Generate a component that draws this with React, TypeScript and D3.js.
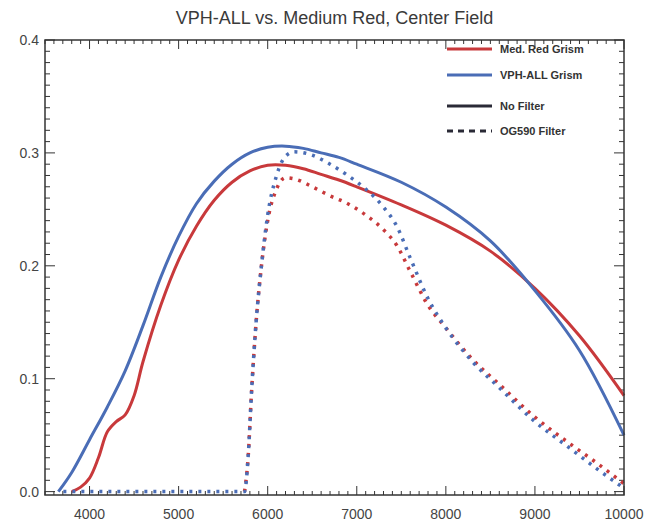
import React from "react";
import * as d3 from "d3";

const W = 654;
const H = 527;

const titleText = "VPH-ALL vs. Medium Red, Center Field";
const xTicks = [4000, 5000, 6000, 7000, 8000, 9000, 10000];
const yTicks = [0.0, 0.1, 0.2, 0.3, 0.4];
const yTickLabels = ["0.0", "0.1", "0.2", "0.3", "0.4"];

// Med. Red Grism, no filter
const redSolidX = [3800, 3900, 4000, 4100, 4200, 4300, 4400, 4500, 4600, 4800, 5000, 5200, 5400, 5600, 5800, 6000, 6200, 6400, 6600, 6800, 7000, 7500, 8000, 8500, 9000, 9500, 10000];
const redSolidY = [0, 0.004, 0.012, 0.03, 0.053, 0.062, 0.068, 0.085, 0.115, 0.165, 0.205, 0.235, 0.258, 0.274, 0.284, 0.289, 0.289, 0.286, 0.281, 0.276, 0.27, 0.254, 0.236, 0.213, 0.18, 0.138, 0.085];

// VPH-ALL Grism, no filter
const blueSolidX = [3650, 3800, 4000, 4200, 4400, 4600, 4800, 5000, 5200, 5400, 5600, 5800, 6000, 6200, 6400, 6600, 6800, 7000, 7500, 8000, 8500, 9000, 9500, 10000];
const blueSolidY = [0, 0.017, 0.046, 0.075, 0.107, 0.147, 0.19, 0.226, 0.255, 0.275, 0.29, 0.3, 0.305, 0.306, 0.304, 0.3, 0.296, 0.29, 0.274, 0.252, 0.222, 0.178, 0.125, 0.05];

// Med. Red Grism, OG590 filter
const redDotX = [5740, 5780, 5820, 5870, 5930, 6000, 6100, 6200, 6300, 6500, 6700, 6900, 7100, 7300, 7450, 7600, 7800, 8000, 8300, 8600, 9000, 9400, 9700, 10000];
const redDotY = [0, 0.03, 0.09, 0.15, 0.2, 0.24, 0.268, 0.278, 0.277, 0.27, 0.262, 0.255, 0.245, 0.232, 0.218, 0.195, 0.165, 0.145, 0.117, 0.095, 0.066, 0.042, 0.025, 0.007];

// VPH-ALL Grism, OG590 filter
const blueDotX = [3650, 4500, 5740, 5780, 5820, 5870, 5930, 6000, 6100, 6200, 6300, 6500, 6700, 6900, 7100, 7300, 7450, 7600, 7800, 8000, 8300, 8600, 9000, 9400, 9700, 10000];
const blueDotY = [0, 0, 0, 0.03, 0.09, 0.15, 0.2, 0.245, 0.28, 0.297, 0.301, 0.298, 0.29, 0.28, 0.268, 0.252, 0.235, 0.207, 0.171, 0.145, 0.115, 0.092, 0.062, 0.038, 0.02, 0.003];

const legendLabels = ["Med. Red Grism", "VPH-ALL Grism", "No Filter", "OG590 Filter"];

const RED = "#c8393b";
const BLUE = "#4a6db6";
const DARK = "#2a2a36";

export default function App() {
  const left = 45, right = 624, top = 40, bottom = 495;
  const x = d3.scaleLinear().domain([3500, 10000]).range([left, right]);
  const y = d3.scaleLinear().domain([-0.003, 0.4]).range([bottom, top]);

  const smooth = d3
    .line<[number, number]>()
    .x((d) => x(d[0]))
    .y((d) => y(d[1]))
    .curve(d3.curveCatmullRom.alpha(0.5));

  const mono = d3
    .line<[number, number]>()
    .x((d) => x(d[0]))
    .y((d) => y(d[1]))
    .curve(d3.curveMonotoneX);

  const zip = (a: number[], b: number[]) => a.map((v, i) => [v, b[i]] as [number, number]);

  const xMinor = d3.range(3500, 10001, 100);
  const yMinor = d3.range(0, 0.4001, 0.01);

  const font = "Helvetica, Arial, 'Liberation Sans', sans-serif";

  return (
    <svg width={W} height={H} style={{ position: "absolute", left: 0, top: 0, background: "#fff" }}>
      <rect x={0} y={0} width={W} height={H} fill="#fff" />
      <text x={(left + right) / 2} y={24} textAnchor="middle" fontFamily={font} fontSize={18} fill="#3a3a3a">
        {titleText}
      </text>

      {/* ticks */}
      <g stroke="#333" strokeWidth={1}>
        {xMinor.map((v) => {
          const major = xTicks.includes(Math.round(v));
          const len = major ? 9 : 4;
          return (
            <g key={"xm" + v}>
              <line x1={x(v)} x2={x(v)} y1={bottom} y2={bottom - len} />
              <line x1={x(v)} x2={x(v)} y1={top} y2={top + len} />
            </g>
          );
        })}
        {yMinor.map((v, i) => {
          const major = i % 10 === 0;
          const len = major ? 10 : 5;
          return (
            <g key={"ym" + i}>
              <line x1={left} x2={left + len} y1={y(v)} y2={y(v)} />
              <line x1={right} x2={right - len} y1={y(v)} y2={y(v)} />
            </g>
          );
        })}
      </g>

      {/* curves */}
      <path d={smooth(zip(redSolidX, redSolidY)) || ""} fill="none" stroke={RED} strokeWidth={3} />
      <path d={smooth(zip(blueSolidX, blueSolidY)) || ""} fill="none" stroke={BLUE} strokeWidth={3} />
      <path d={mono(zip(redDotX, redDotY)) || ""} fill="none" stroke={RED} strokeWidth={3.5} strokeDasharray="3 6" />
      <path d={mono(zip(blueDotX, blueDotY)) || ""} fill="none" stroke={BLUE} strokeWidth={3.5} strokeDasharray="3 6" strokeDashoffset={4} />

      {/* frame */}
      <rect x={left} y={top} width={right - left} height={bottom - top} fill="none" stroke="#333" strokeWidth={1.5} />

      {/* axis labels */}
      {xTicks.map((v) => (
        <text key={"xl" + v} x={x(v)} y={519} textAnchor="middle" fontFamily={font} fontSize={14} fill="#444">
          {v}
        </text>
      ))}
      {yTicks.map((v, i) => (
        <text key={"yl" + i} x={39} y={y(v) + 5} textAnchor="end" fontFamily={font} fontSize={14} fill="#444">
          {yTickLabels[i]}
        </text>
      ))}

      {/* legend */}
      <g fontFamily={font} fontSize={11} fontWeight="bold" fill="#333">
        <line x1={447} x2={492} y1={49} y2={49} stroke={RED} strokeWidth={3} />
        <text x={500} y={53}>{legendLabels[0]}</text>
        <line x1={447} x2={492} y1={75} y2={75} stroke={BLUE} strokeWidth={3} />
        <text x={500} y={79}>{legendLabels[1]}</text>
        <line x1={447} x2={492} y1={106} y2={106} stroke={DARK} strokeWidth={3} />
        <text x={500} y={110}>{legendLabels[2]}</text>
        <line x1={447} x2={492} y1={131} y2={131} stroke={DARK} strokeWidth={3} strokeDasharray="6 5" />
        <text x={500} y={135}>{legendLabels[3]}</text>
      </g>
    </svg>
  );
}
